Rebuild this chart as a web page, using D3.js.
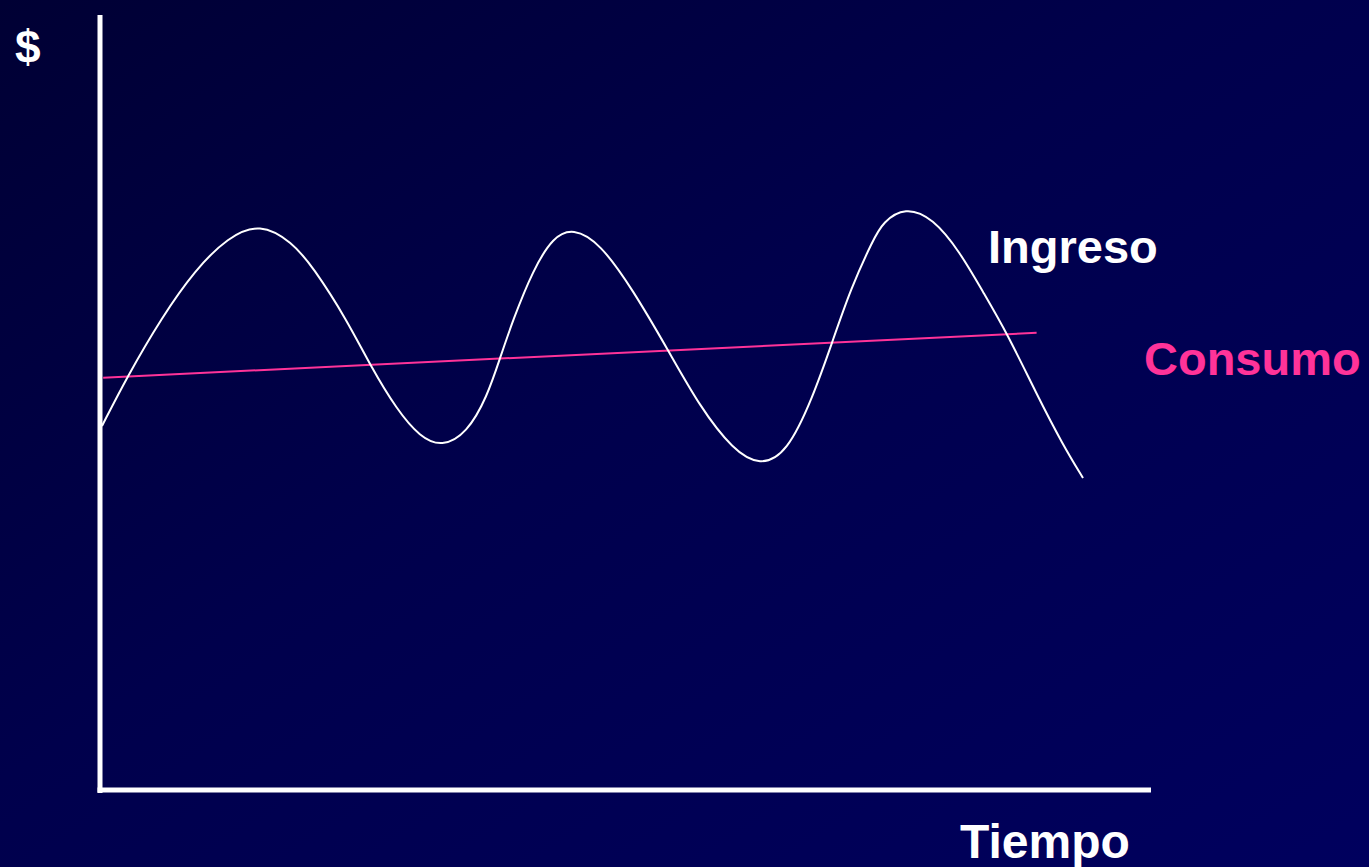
<!DOCTYPE html>
<html>
<head>
<meta charset="utf-8">
<script src="https://cdn.jsdelivr.net/npm/d3@7"></script>
<style>
  html, body { margin: 0; padding: 0; overflow: hidden; }
  body { width: 1369px; height: 867px; }
  svg { display: block; }
</style>
</head>
<body>
<script>
// Time (x) and value (y) of the income curve
const ingresoT = [0.19, 2.57, 5.90, 9.05, 12.19, 15.24, 18.29, 20.29, 23.52, 25.71, 28.29, 30.48, 32.57, 34.95, 36.86, 38.10, 39.33, 41.24, 43.14, 45.05, 47.62, 50.76, 54.10, 57.14, 60.29, 62.86, 65.43, 67.90, 69.71, 71.52, 73.62, 74.57, 76.67, 79.33, 81.90, 84.10, 86.38, 89.24, 91.71, 93.62];
const ingresoV = [46.97, 53.29, 61.03, 67.10, 71.35, 73.16, 70.71, 67.48, 60.65, 54.84, 49.03, 45.55, 44.26, 46.06, 50.71, 55.74, 60.65, 67.10, 71.35, 72.52, 70.58, 64.52, 56.77, 49.42, 43.87, 41.81, 43.48, 50.71, 57.68, 64.77, 70.97, 73.29, 75.23, 73.81, 69.42, 64.26, 58.97, 50.97, 44.52, 40.26];
// Consumption line
const consumoT = [0.3, 89.2];
const consumoV = [53.2, 59.0];
// Labels
const yLabel = "$";
const xLabel = "Tiempo";
const seriesLabels = ["Ingreso", "Consumo"];

const W = 1369, H = 867;
const svg = d3.select("body").append("svg").attr("width", W).attr("height", H);

const defs = svg.append("defs");
const grad = defs.append("linearGradient").attr("id", "bg")
  .attr("x1", "0").attr("y1", "0").attr("x2", "1").attr("y2", "1");
grad.append("stop").attr("offset", "0").attr("stop-color", "#000034");
grad.append("stop").attr("offset", "0.45").attr("stop-color", "#00004c");
grad.append("stop").attr("offset", "1").attr("stop-color", "#00005e");
svg.append("rect").attr("width", W).attr("height", H).attr("fill", "url(#bg)");

const x = d3.scaleLinear().domain([0, 100]).range([100, 1150]);
const y = d3.scaleLinear().domain([0, 100]).range([790, 15]);

const font = "'Liberation Sans', Arial, sans-serif";

// Axes (no ticks, only the domain lines)
const xAxis = svg.append("g").attr("transform", `translate(0,${y(0)})`)
  .call(d3.axisBottom(x).tickValues([]).tickSizeOuter(0));
xAxis.select(".domain").attr("stroke", "#ffffff").attr("stroke-width", 5).attr("d", `M${x(0) - 2.5},0H${x(100) + 1}`);

const yAxis = svg.append("g").attr("transform", `translate(${x(0)},0)`)
  .call(d3.axisLeft(y).tickValues([]).tickSizeOuter(0));
yAxis.select(".domain").attr("stroke", "#ffffff").attr("stroke-width", 5).attr("d", `M0,${y(0) + 3}V${y(100)}`);

// Consumo line
const consumo = consumoT.map((t, i) => [t, consumoV[i]]);
svg.append("path")
  .datum(consumo)
  .attr("fill", "none")
  .attr("stroke", "#ff3399")
  .attr("stroke-width", 2)
  .attr("d", d3.line().x(d => x(d[0])).y(d => y(d[1])));

// Ingreso curve
const ingreso = ingresoT.map((t, i) => [t, ingresoV[i]]);
svg.append("path")
  .datum(ingreso)
  .attr("fill", "none")
  .attr("stroke", "#ffffff")
  .attr("stroke-width", 2)
  .attr("d", d3.line().x(d => x(d[0])).y(d => y(d[1])).curve(d3.curveBasis));

// Texts
svg.append("text").attr("x", 15).attr("y", 63)
  .attr("font-family", font).attr("font-weight", "bold").attr("font-size", 46)
  .attr("fill", "#ffffff").text(yLabel);

svg.append("text").attr("x", 960).attr("y", 858)
  .attr("font-family", font).attr("font-weight", "bold").attr("font-size", 48)
  .attr("fill", "#ffffff").text(xLabel);

svg.append("text").attr("x", 988).attr("y", 263)
  .attr("font-family", font).attr("font-weight", "bold").attr("font-size", 47)
  .attr("fill", "#ffffff").text(seriesLabels[0]);

svg.append("text").attr("x", 1144).attr("y", 375)
  .attr("font-family", font).attr("font-weight", "bold").attr("font-size", 47)
  .attr("fill", "#ff3399").text(seriesLabels[1]);
</script>
</body>
</html>
